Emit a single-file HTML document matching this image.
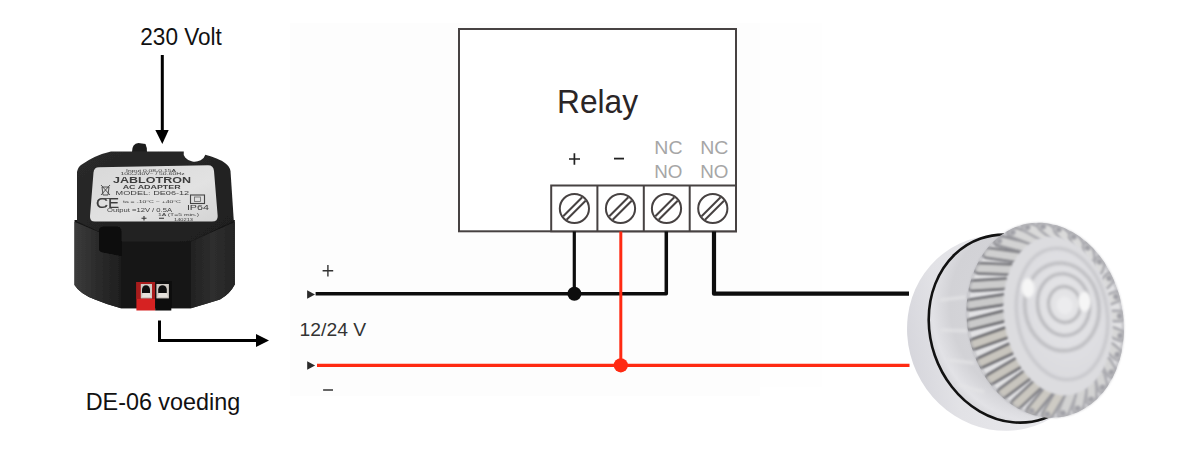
<!DOCTYPE html>
<html><head><meta charset="utf-8">
<style>
html,body{margin:0;padding:0;background:#fff;width:1194px;height:474px;overflow:hidden}
svg{display:block;position:absolute;left:0;top:0}
text{font-family:"Liberation Sans",sans-serif}
</style></head><body>
<svg width="1194" height="474" viewBox="0 0 1194 474">
<!-- faint background panel -->
<rect x="290" y="23" width="470" height="373" fill="#fdfdfd"/><rect x="760" y="23" width="62" height="364" fill="#fefefe"/>

<!-- ===== left: 230 Volt + arrow ===== -->
<text x="140.3" y="44.7" font-size="23" fill="#111" textLength="81.6" lengthAdjust="spacingAndGlyphs">230 Volt</text>
<rect x="160.8" y="55" width="3" height="77" fill="#000"/>
<polygon points="155.3,130 168.7,130 162.3,144" fill="#000"/>

<g id="adapter" filter="url(#adBlur)">
<defs>
<filter id="adBlur" x="-5%" y="-5%" width="110%" height="110%"><feGaussianBlur stdDeviation="0.45"/></filter>
<linearGradient id="adL" x1="0" y1="0" x2="1" y2="0"><stop offset="0" stop-color="#3c3c3c"/><stop offset="0.4" stop-color="#2e2e2e"/><stop offset="1" stop-color="#1e1e1e"/></linearGradient>
<linearGradient id="adR" x1="0" y1="0" x2="1" y2="0"><stop offset="0" stop-color="#222"/><stop offset="0.5" stop-color="#2e2e2e"/><stop offset="1" stop-color="#242424"/></linearGradient>
<linearGradient id="adTop" x1="0" y1="0" x2="1" y2="1"><stop offset="0" stop-color="#2a2a2a"/><stop offset="1" stop-color="#1e1e1e"/></linearGradient>
<linearGradient id="lab" x1="0" y1="0" x2="1" y2="1">
<stop offset="0" stop-color="#d8d8d8"/><stop offset="0.6" stop-color="#e2e2e2"/><stop offset="1" stop-color="#d4d4d4"/>
</linearGradient>
</defs>
<!-- cable stub -->
<path d="M132 152 Q132 143.5 138.5 143 L145.5 144 Q147 147 147 152 Z" fill="#1c1c1c"/>
<!-- body sides -->
<path d="M74.5 220 L74.5 285 Q80 294 95 299.5 Q108 305 121 308.3 L191 308.3 Q206 304 220 299.6 Q230 294 234.8 284.6 L234.8 220 Z" fill="#141414"/>
<path d="M75 222 L121 241.4 L121 308.3 Q108 305 95 299.5 Q80 294 74.5 285 L74.5 222 Z" fill="url(#adL)"/>
<path d="M191 241.4 L234.8 222 L234.8 284.6 Q230 294 220 299.6 Q206 304 191 308.3 Z" fill="url(#adR)"/>
<path d="M121 241.4 L191 241.4 L191 308.3 L121 308.3 Z" fill="#121212"/>
<!-- top face -->
<path d="M111 151.5 L183.8 151.4 A10.8 8.4 0 0 0 205.3 154.8 Q218 158 225 163 Q229.5 166 230.5 171 L233.8 221 L191 241.4 L121 241.4 L77 221.5 L77 172 Q78 167 81 165 Q95 155 111 151.5 Z" fill="url(#adTop)"/>
<!-- connector bump -->
<path d="M99 231 Q99 226.6 104 226.6 L117 226.6 Q121.5 227 121.5 232 L121.5 256 L101 252 Q99 251 99 249 Z" fill="#080808"/>
<!-- label -->
<path d="M99 167.3 L208 165.3 Q213.5 165.3 214 171 L217.7 216 Q218 221.5 212 221.5 L95 221.5 Q89.5 221.5 90 216 L93.5 172.5 Q94 167.4 99 167.3 Z" fill="url(#lab)"/>
<g fill="#3c3c3c" font-family="Liberation Sans, sans-serif" font-weight="bold">
<text x="126" y="171.6" font-size="4" textLength="50" lengthAdjust="spacingAndGlyphs" font-weight="normal">Input 0.08-0.15A</text>
<text x="120.5" y="175.4" font-size="3.8" textLength="64" lengthAdjust="spacingAndGlyphs" font-weight="normal">100-240V~ / 50-60Hz</text>
<text x="113" y="182.8" font-size="8.6" textLength="78" lengthAdjust="spacingAndGlyphs">JABLOTRON</text>
<text x="122.7" y="188.7" font-size="6" textLength="58" lengthAdjust="spacingAndGlyphs">AC ADAPTER</text>
<text x="115.6" y="195" font-size="6" textLength="73.6" lengthAdjust="spacingAndGlyphs" font-weight="normal">MODEL: DE06-12</text>
<text x="123" y="202.6" font-size="3.8" textLength="58" lengthAdjust="spacingAndGlyphs" font-weight="normal">ta = -10°C ~ +40°C</text>
<text x="107" y="212" font-size="4.5" textLength="65" lengthAdjust="spacingAndGlyphs" font-weight="normal">Output =12V / 0.5A</text>
<text x="158" y="216.2" font-size="4" textLength="41" lengthAdjust="spacingAndGlyphs" font-weight="normal">1A (T=5 min.)</text>
<text x="186.9" y="209.6" font-size="6.3" textLength="22" lengthAdjust="spacingAndGlyphs" font-weight="normal">IP64</text>
<text x="174" y="220.8" font-size="3.5" textLength="19" lengthAdjust="spacingAndGlyphs" font-weight="normal">140213</text>
<text x="96" y="208.3" font-size="14" textLength="23" lengthAdjust="spacingAndGlyphs" font-weight="normal" stroke="#3c3c3c" stroke-width="0.2">CE</text>
</g>
<path d="M101 185 L110 195 M110 185 L101 195 M102 187 H109 L108 195 H103 Z M100.5 198.5 H111" stroke="#444" stroke-width="0.9" fill="none"/>
<rect x="190.5" y="195" width="14" height="8.5" fill="none" stroke="#444" stroke-width="1.1"/>
<rect x="194.5" y="197" width="6" height="4.5" fill="none" stroke="#666" stroke-width="0.8"/>
<path d="M141.5 218.3 H146.5 M144 216 V220.6 M159 218.3 H164" stroke="#333" stroke-width="1.1"/>
<!-- terminal -->
<rect x="136.4" y="282" width="18.8" height="28.5" fill="#d62222"/>
<rect x="136.4" y="282" width="18.8" height="17" fill="#a81c1c"/>
<rect x="155.2" y="281" width="16.1" height="29.5" fill="#0c0c0c"/>
<rect x="140.8" y="284" width="11.2" height="14.4" fill="#cfcac4"/>
<rect x="156.4" y="284" width="12.5" height="14.4" fill="#cfcac4"/>
<path d="M142 293 V289.5 A4 4.3 0 0 1 150 289.5 V293 Z" fill="#0e0e0e"/>
<path d="M158.2 293 V289.5 A4.3 4.3 0 0 1 166.8 289.5 V293 Z" fill="#0e0e0e"/>
<path d="M143 293 L142 297 H151 L149.5 293 Z M159 293 L158 297 H168 L166.5 293 Z" fill="#e6e2dc"/>
</g>

<!-- elbow arrow -->
<path d="M159.5 320.5 V340.5 H258" fill="none" stroke="#000" stroke-width="3"/>
<polygon points="256,334 256,347 269,340.5" fill="#000"/>

<text x="85.7" y="410.4" font-size="23.7" fill="#111" textLength="154.5" lengthAdjust="spacingAndGlyphs">DE-06 voeding</text>

<!-- ===== relay ===== -->
<rect x="459" y="29" width="277" height="202.3" fill="#fff" stroke="#474242" stroke-width="2"/>
<text x="557" y="112.7" font-size="34" fill="#2a2527" textLength="81" lengthAdjust="spacingAndGlyphs">Relay</text>
<path d="M569 159H580M574.4 153.2V164.7" stroke="#222" stroke-width="1.7"/>
<path d="M614 158.6H624" stroke="#222" stroke-width="1.8"/>
<g fill="#a6a6a6" font-size="18.3">
<text x="654.3" y="153.9" textLength="28.2" lengthAdjust="spacingAndGlyphs">NC</text>
<text x="654.3" y="177.7" textLength="28.2" lengthAdjust="spacingAndGlyphs">NO</text>
<text x="700.2" y="153.9" textLength="28.2" lengthAdjust="spacingAndGlyphs">NC</text>
<text x="700.2" y="177.7" textLength="28.2" lengthAdjust="spacingAndGlyphs">NO</text>
</g>
<!-- terminal block -->
<rect x="551.2" y="185.5" width="184.8" height="45.8" fill="#fff" stroke="#474242" stroke-width="2"/>
<path d="M597.4 185.5V231.3M643.8 185.5V231.3M689.7 185.5V231.3" stroke="#474242" stroke-width="2"/>
<g id="screws" fill="none" stroke="#474242" stroke-width="2">
<g transform="translate(574.4 208.5)"><circle r="14.6"/><path d="M-11.2 7.8L7.8 -11.2M-7.8 11.2L11.2 -7.8"/></g>
<g transform="translate(620.5 208.5)"><circle r="14.6"/><path d="M-11.2 7.8L7.8 -11.2M-7.8 11.2L11.2 -7.8"/></g>
<g transform="translate(666.5 208.5)"><circle r="14.6"/><path d="M-11.2 7.8L7.8 -11.2M-7.8 11.2L11.2 -7.8"/></g>
<g transform="translate(712.8 208.5)"><circle r="14.6"/><path d="M-11.2 7.8L7.8 -11.2M-7.8 11.2L11.2 -7.8"/></g>
</g>

<!-- ===== wires ===== -->
<path d="M315.6 293.8H666.3V231.5" fill="none" stroke="#0d0d0d" stroke-width="3.5" stroke-linejoin="round"/>
<path d="M574.3 231.5V293.8" fill="none" stroke="#0d0d0d" stroke-width="3.2"/>
<circle cx="574.4" cy="293.7" r="7" fill="#0d0d0d"/>
<path d="M714 231.5V293.7H909" fill="none" stroke="#0d0d0d" stroke-width="4.2" stroke-linejoin="round"/>
<path d="M620.8 231.5V365.5" fill="none" stroke="#ff2a12" stroke-width="3"/>
<path d="M317 365.4H909.5" fill="none" stroke="#ff2a12" stroke-width="3.2"/>
<circle cx="620.8" cy="365.3" r="7.1" fill="#ff2a12"/>
<polygon points="307.1,290.3 307.1,298.8 315,294.5" fill="#2a2a2a"/>
<polygon points="307.2,361.3 307.2,369.7 315.1,365.5" fill="#2a2a2a"/>
<path d="M322.6 270.8H333.2M327.9 265V276.6" stroke="#333" stroke-width="1.4"/>
<text x="299.6" y="336.2" font-size="18.4" fill="#333" textLength="66.6" lengthAdjust="spacingAndGlyphs">12/24 V</text>
<path d="M323.1 390H333" stroke="#555" stroke-width="1.8"/>

<g id="strobe">
<defs>
<linearGradient id="stBase" x1="0" y1="0" x2="1" y2="0.25">
<stop offset="0" stop-color="#c6c6ce"/><stop offset="0.1" stop-color="#d6d6dc"/><stop offset="0.3" stop-color="#e2e2e6"/><stop offset="1" stop-color="#ececf0"/>
</linearGradient>
<radialGradient id="stWall" cx="0.62" cy="0.45" r="0.62">
<stop offset="0" stop-color="#d8d8dc"/><stop offset="0.75" stop-color="#d2d2d6"/><stop offset="0.93" stop-color="#e2e2e6"/><stop offset="1" stop-color="#d8d8dc"/>
</radialGradient>
<radialGradient id="stLens" cx="0.55" cy="0.45" r="0.6">
<stop offset="0" stop-color="#e6e6e8"/><stop offset="1" stop-color="#dadade"/>
</radialGradient>
<filter id="soft" x="-10%" y="-10%" width="120%" height="120%"><feGaussianBlur stdDeviation="0.9"/></filter>
<filter id="soft2" x="-10%" y="-10%" width="120%" height="120%"><feGaussianBlur stdDeviation="1.5"/></filter>
<clipPath id="crownClip"><ellipse cx="1045.2" cy="320.3" rx="78" ry="98.2" transform="rotate(-10.8 1045.2 320.3)"/></clipPath>
</defs>
<ellipse cx="1001.5" cy="333" rx="93.5" ry="98.8" transform="rotate(-25 1001.5 333)" fill="url(#stBase)"/>
<ellipse cx="1012" cy="328.6" rx="81.7" ry="95.4" transform="rotate(-19.2 1012 328.6)" fill="url(#stWall)" stroke="#121212" stroke-width="2.6"/>
<g filter="url(#soft2)">
<path d="M940 300 L966 297 M941 330 L968 331 M948 360 L974 363 M958 385 L984 392" stroke="#e4e4e6" stroke-width="2.5"/>
</g>
<g clip-path="url(#crownClip)">
<ellipse cx="1045.2" cy="320.3" rx="78" ry="98.2" transform="rotate(-10.8 1045.2 320.3)" fill="#e2e2e4"/>
<g filter="url(#soft)">
<path d="M1120.3 316.1 L1112.4 315.9" stroke="#acacb1" stroke-width="13.0" stroke-linecap="round"/>
<path d="M1120.3 316.1 L1112.4 315.9" stroke="#d9d9d9" stroke-width="7.5" stroke-linecap="round"/>
<path d="M1120.8 335.8 L1112.6 332.4" stroke="#acacb1" stroke-width="13.0" stroke-linecap="round"/>
<path d="M1120.8 335.8 L1112.6 332.4" stroke="#d7d7d7" stroke-width="7.5" stroke-linecap="round"/>
<path d="M1117.9 354.9 L1110.4 348.2" stroke="#acacb1" stroke-width="13.0" stroke-linecap="round"/>
<path d="M1117.9 354.9 L1110.4 348.2" stroke="#d6d6d6" stroke-width="7.5" stroke-linecap="round"/>
<path d="M1111.9 372.4 L1106.0 362.6" stroke="#acacb1" stroke-width="13.0" stroke-linecap="round"/>
<path d="M1111.9 372.4 L1106.0 362.6" stroke="#d4d4d4" stroke-width="7.5" stroke-linecap="round"/>
<path d="M1102.9 387.7 L1099.5 375.0" stroke="#acacb1" stroke-width="13.0" stroke-linecap="round"/>
<path d="M1102.9 387.7 L1099.5 375.0" stroke="#d3d3d3" stroke-width="7.5" stroke-linecap="round"/>
<path d="M1091.5 400.0 L1091.1 384.7" stroke="#acacb1" stroke-width="13.0" stroke-linecap="round"/>
<path d="M1091.5 400.0 L1091.1 384.7" stroke="#d2d2d2" stroke-width="7.5" stroke-linecap="round"/>
<path d="M1078.0 408.8 L1081.3 391.5" stroke="#acacb1" stroke-width="13.0" stroke-linecap="round"/>
<path d="M1078.0 408.8 L1081.3 391.5" stroke="#d2d2d2" stroke-width="7.5" stroke-linecap="round"/>
<path d="M1063.0 413.8 L1070.5 395.0" stroke="#acacb1" stroke-width="13.0" stroke-linecap="round"/>
<path d="M1063.0 413.8 L1070.5 395.0" stroke="#d2d2d2" stroke-width="7.5" stroke-linecap="round"/>
<path d="M1047.3 414.7 L1059.2 395.0" stroke="#9d9da2" stroke-width="13.0" stroke-linecap="round"/>
<path d="M1047.3 414.7 L1059.2 395.0" stroke="#cecbc4" stroke-width="7.5" stroke-linecap="round"/>
<path d="M1031.5 411.4 L1047.7 391.6" stroke="#8f8f94" stroke-width="13.0" stroke-linecap="round"/>
<path d="M1031.5 411.4 L1047.7 391.6" stroke="#ccc9c2" stroke-width="7.5" stroke-linecap="round"/>
<path d="M1016.3 404.2 L1036.8 384.9" stroke="#828287" stroke-width="13.0" stroke-linecap="round"/>
<path d="M1016.3 404.2 L1036.8 384.9" stroke="#cac7c0" stroke-width="7.5" stroke-linecap="round"/>
<path d="M1002.4 393.3 L1026.7 375.1" stroke="#77777c" stroke-width="13.0" stroke-linecap="round"/>
<path d="M1002.4 393.3 L1026.7 375.1" stroke="#c8c5be" stroke-width="7.5" stroke-linecap="round"/>
<path d="M990.3 379.2 L1018.1 362.8" stroke="#6f6f74" stroke-width="13.0" stroke-linecap="round"/>
<path d="M990.3 379.2 L1018.1 362.8" stroke="#c8c5be" stroke-width="7.5" stroke-linecap="round"/>
<path d="M980.6 362.6 L1011.1 348.5" stroke="#69696e" stroke-width="13.0" stroke-linecap="round"/>
<path d="M980.6 362.6 L1011.1 348.5" stroke="#c8c5be" stroke-width="7.5" stroke-linecap="round"/>
<path d="M973.8 344.1 L1006.3 332.7" stroke="#66666b" stroke-width="13.0" stroke-linecap="round"/>
<path d="M973.8 344.1 L1006.3 332.7" stroke="#c9c6bf" stroke-width="7.5" stroke-linecap="round"/>
<path d="M970.1 324.5 L1003.6 316.1" stroke="#66666b" stroke-width="13.0" stroke-linecap="round"/>
<path d="M970.1 324.5 L1003.6 316.1" stroke="#cacaca" stroke-width="7.5" stroke-linecap="round"/>
<path d="M969.6 304.8 L1003.4 299.6" stroke="#69696e" stroke-width="13.0" stroke-linecap="round"/>
<path d="M969.6 304.8 L1003.4 299.6" stroke="#cacaca" stroke-width="7.5" stroke-linecap="round"/>
<path d="M972.5 285.7 L1005.6 283.8" stroke="#6f6f74" stroke-width="13.0" stroke-linecap="round"/>
<path d="M972.5 285.7 L1005.6 283.8" stroke="#cccccc" stroke-width="7.5" stroke-linecap="round"/>
<path d="M978.5 268.2 L1010.0 269.4" stroke="#77777c" stroke-width="13.0" stroke-linecap="round"/>
<path d="M978.5 268.2 L1010.0 269.4" stroke="#cecece" stroke-width="7.5" stroke-linecap="round"/>
<path d="M987.5 252.9 L1016.5 257.0" stroke="#828287" stroke-width="13.0" stroke-linecap="round"/>
<path d="M987.5 252.9 L1016.5 257.0" stroke="#d0d0d0" stroke-width="7.5" stroke-linecap="round"/>
<path d="M998.9 240.6 L1024.9 247.3" stroke="#8f8f94" stroke-width="13.0" stroke-linecap="round"/>
<path d="M998.9 240.6 L1024.9 247.3" stroke="#d3d3d3" stroke-width="7.5" stroke-linecap="round"/>
<path d="M1012.4 231.8 L1034.7 240.5" stroke="#9d9da2" stroke-width="13.0" stroke-linecap="round"/>
<path d="M1012.4 231.8 L1034.7 240.5" stroke="#d6d6d6" stroke-width="7.5" stroke-linecap="round"/>
<path d="M1027.4 226.8 L1045.5 237.0" stroke="#acacb1" stroke-width="13.0" stroke-linecap="round"/>
<path d="M1027.4 226.8 L1045.5 237.0" stroke="#dadada" stroke-width="7.5" stroke-linecap="round"/>
<path d="M1043.1 225.9 L1056.8 237.0" stroke="#acacb1" stroke-width="13.0" stroke-linecap="round"/>
<path d="M1043.1 225.9 L1056.8 237.0" stroke="#dadada" stroke-width="7.5" stroke-linecap="round"/>
<path d="M1058.9 229.2 L1068.3 240.4" stroke="#acacb1" stroke-width="13.0" stroke-linecap="round"/>
<path d="M1058.9 229.2 L1068.3 240.4" stroke="#dadada" stroke-width="7.5" stroke-linecap="round"/>
<path d="M1074.1 236.4 L1079.2 247.1" stroke="#acacb1" stroke-width="13.0" stroke-linecap="round"/>
<path d="M1074.1 236.4 L1079.2 247.1" stroke="#dadada" stroke-width="7.5" stroke-linecap="round"/>
<path d="M1088.0 247.3 L1089.3 256.9" stroke="#acacb1" stroke-width="13.0" stroke-linecap="round"/>
<path d="M1088.0 247.3 L1089.3 256.9" stroke="#dadada" stroke-width="7.5" stroke-linecap="round"/>
<path d="M1100.1 261.4 L1097.9 269.2" stroke="#acacb1" stroke-width="13.0" stroke-linecap="round"/>
<path d="M1100.1 261.4 L1097.9 269.2" stroke="#dadada" stroke-width="7.5" stroke-linecap="round"/>
<path d="M1109.8 278.0 L1104.9 283.5" stroke="#acacb1" stroke-width="13.0" stroke-linecap="round"/>
<path d="M1109.8 278.0 L1104.9 283.5" stroke="#dadada" stroke-width="7.5" stroke-linecap="round"/>
<path d="M1116.6 296.5 L1109.7 299.3" stroke="#acacb1" stroke-width="13.0" stroke-linecap="round"/>
<path d="M1116.6 296.5 L1109.7 299.3" stroke="#dadada" stroke-width="7.5" stroke-linecap="round"/>
<circle cx="1119.8" cy="316.1" r="3" fill="#a2a2a8"/>
<circle cx="1120.3" cy="335.8" r="3" fill="#a2a2a8"/>
<circle cx="1117.4" cy="354.7" r="3" fill="#a2a2a8"/>
<circle cx="1111.5" cy="372.2" r="3" fill="#a2a2a8"/>
<circle cx="1102.6" cy="387.4" r="3" fill="#a2a2a8"/>
<circle cx="1091.2" cy="399.6" r="3" fill="#a2a2a8"/>
<circle cx="1077.8" cy="408.4" r="3" fill="#a2a2a8"/>
<circle cx="1062.9" cy="413.3" r="3" fill="#a2a2a8"/>
<circle cx="1047.3" cy="414.2" r="3" fill="#a2a2a8"/>
<circle cx="1031.6" cy="411.0" r="3" fill="#a2a2a8"/>
<circle cx="999.2" cy="241.0" r="3" fill="#a2a2a8"/>
<circle cx="1012.6" cy="232.2" r="3" fill="#a2a2a8"/>
<circle cx="1027.5" cy="227.3" r="3" fill="#a2a2a8"/>
<circle cx="1043.1" cy="226.4" r="3" fill="#a2a2a8"/>
<circle cx="1058.8" cy="229.6" r="3" fill="#a2a2a8"/>
<circle cx="1073.9" cy="236.8" r="3" fill="#a2a2a8"/>
<circle cx="1087.7" cy="247.7" r="3" fill="#a2a2a8"/>
<circle cx="1099.7" cy="261.7" r="3" fill="#a2a2a8"/>
<circle cx="1109.3" cy="278.3" r="3" fill="#a2a2a8"/>
<circle cx="1116.1" cy="296.7" r="3" fill="#a2a2a8"/>
</g>
</g>
<ellipse cx="1045.2" cy="320.3" rx="77" ry="97.2" transform="rotate(-10.8 1045.2 320.3)" fill="none" stroke="#a8a8ae" stroke-width="1.2" filter="url(#soft)"/>
<g filter="url(#soft)">
<ellipse cx="1058" cy="316" rx="54" ry="80" transform="rotate(-9 1058 316)" fill="#dcdcdf"/>
</g>
<g transform="rotate(-9 1062 314)" filter="url(#soft2)">
<ellipse cx="1062" cy="314" rx="45" ry="66" fill="url(#stLens)" stroke="#c6c6ca" stroke-width="3"/>
<ellipse cx="1063" cy="307" rx="37" ry="44" fill="none" stroke="#bdbdc1" stroke-width="3.6"/>
<ellipse cx="1065" cy="305" rx="26" ry="31" fill="none" stroke="#b6b6ba" stroke-width="3.2"/>
<ellipse cx="1066" cy="305" rx="16" ry="18" fill="none" stroke="#b2b2b6" stroke-width="2.8"/>
<ellipse cx="1066" cy="306" rx="8" ry="9" fill="#ececee"/>
</g>
<g filter="url(#soft2)">
<ellipse cx="1028" cy="288" rx="6.5" ry="10" fill="#f6f6f6"/>
<ellipse cx="1084.5" cy="301.5" rx="6.5" ry="10" fill="#f6f6f6"/>
</g>
</g>
</svg>
</body></html>
